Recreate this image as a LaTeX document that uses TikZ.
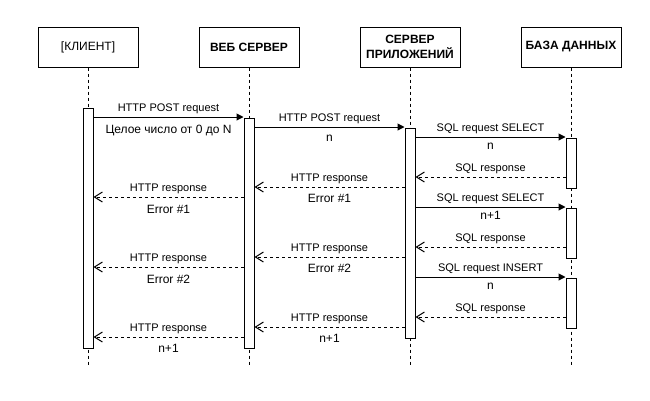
\documentclass[tikz,border=0pt]{standalone}
\usepackage{fontspec}
\setmainfont{Liberation Sans}
\usetikzlibrary{positioning,arrows.meta}

\begin{document}
\begin{tikzpicture}[x=1pt, y=-1pt, line width=1pt,
	actor/.style={draw, minimum width=100pt, minimum height=40pt, align=center, font=\fontsize{12}{15}\selectfont},
	actorb/.style={actor, font=\fontsize{12}{15}\selectfont\bfseries},
	bar/.style={draw, fill=white, minimum width=10pt, inner sep=0pt},
	life/.style={dash pattern=on 3pt off 3pt},
	req/.style={-{Triangle[length=7pt,width=7pt]}},
	resp/.style={dash pattern=on 3pt off 3pt, -{Straight Barb[length=8pt,width=10pt]}},
	lbl/.style={font=\fontsize{11}{13}\selectfont, anchor=base, inner sep=0pt},
	val/.style={lbl, font=\fontsize{12}{14}\selectfont}]
		\useasboundingbox (0,0) rectangle (650,400);
		
		% Participants
		\node[actor] (client) at (88,47) {[КЛИЕНТ]};
		\node[actorb, right=60pt of client] (web) {ВЕБ СЕРВЕР};
		\node[actorb, right=60pt of web] (app) {СЕРВЕР\\ПРИЛОЖЕНИЙ};
		\node[actorb, right=60pt of app] (db) {БАЗА ДАННЫХ};
		
		% Lifelines
		\coordinate (bottom) at (0,365);
		\foreach \p in {client, web, app, db}
			\draw[life] (\p.south) -- (\p.south |- bottom);
		
		% Activation bars
		\node[bar, minimum height=240pt, below=40pt of client] (clbar) {};
		\node[bar, minimum height=230pt, below=50pt of web] (webbar) {};
		\node[bar, minimum height=210pt, below=60pt of app] (appbar) {};
		\node[bar, minimum height=50pt, below=70pt of db] (dbbar1) {};
		\node[bar, minimum height=50pt, below=140pt of db] (dbbar2) {};
		\node[bar, minimum height=50pt, below=210pt of db] (dbbar3) {};
		
		% Requests (left to right)
		\foreach \a/\b/\y/\txtup/\txtdn/\sh in {
			clbar/webbar/117/HTTP POST request/Целое число от 0 до N/16pt,
			webbar/appbar/127/HTTP POST request/n/14pt,
			appbar/dbbar1/137/SQL request SELECT/n/12.5pt,
			appbar/dbbar2/207/SQL request SELECT/n+1/12.5pt,
			appbar/dbbar3/277/SQL request INSERT/n/12.5pt} {
			\draw[req] (\a.east |- 0,\y) -- (\b.west |- 0,\y)
				node[lbl, midway, yshift=5.5pt] {\txtup}
				node[val, midway, yshift=-\sh] {\txtdn};
		}
		
		% Responses (right to left)
		\foreach \a/\b/\y/\txtup/\txtdn/\sh in {
			dbbar1/appbar/177/SQL response//12pt,
			appbar/webbar/187/HTTP response/Error \#1/15pt,
			webbar/clbar/197/HTTP response/Error \#1/16pt,
			dbbar2/appbar/247/SQL response//12pt,
			appbar/webbar/257/HTTP response/Error \#2/15pt,
			webbar/clbar/267/HTTP response/Error \#2/16pt,
			dbbar3/appbar/317/SQL response//12pt,
			appbar/webbar/327/HTTP response/n+1/15pt,
			webbar/clbar/337/HTTP response/n+1/15pt} {
			\draw[resp] (\a.west |- 0,\y) -- (\b.east |- 0,\y)
				node[lbl, midway, yshift=5.5pt] {\txtup}
				node[val, midway, yshift=-\sh] {\txtdn};
		}
	\end{tikzpicture}
\end{document}
